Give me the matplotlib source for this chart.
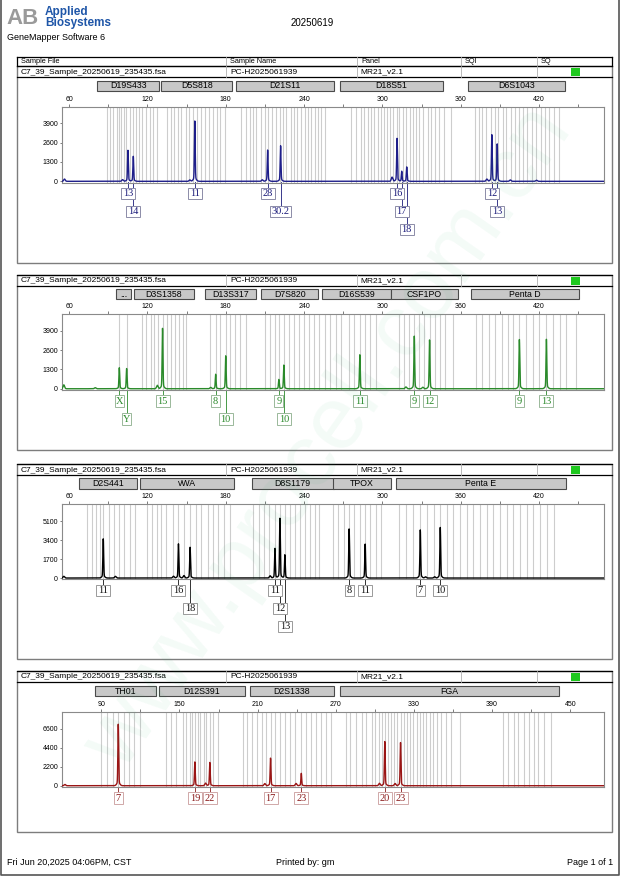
import numpy as np
import matplotlib
matplotlib.use("Agg")
import matplotlib.pyplot as plt
from matplotlib.patches import Rectangle
from matplotlib.transforms import blended_transform_factory

plt.rcParams['font.family'] = ['Liberation Sans', 'DejaVu Sans']

W, H = 620, 876

## header texts ##
run_date = '20250619'
sample_file = 'C7_39_Sample_20250619_235435.fsa'
sample_name = 'PC-H2025061939'
panel_name = 'MR21_v2.1'
table_cols = ['Sample File', 'Sample Name', 'Panel', 'SQI', 'SQ']

## panel 1 : blue dye ##
p1_markers = ['D19S433', 'D5S818', 'D21S11', 'D18S51', 'D6S1043']
p1_marker_lo = [81.7, 130.6, 188.0, 267.5, 365.6]
p1_marker_hi = [129.1, 184.9, 263.0, 346.3, 439.8]
p1_size = [105.1, 109.2, 156.3, 212.1, 222.0, 311.2, 314.8, 318.6, 383.8, 387.9]
p1_height = [1960, 1580, 3820, 1980, 2250, 2720, 640, 910, 2950, 2370]
p1_allele = ['13', '14', '11', '28', '30.2', '16', '17', '18', '12', '13']
p1_row = [0, 1, 0, 0, 1, 0, 1, 2, 0, 1]
p1_small_size = [56.5, 101.0, 152.5, 208.0, 307.4, 380.0, 398.0, 418.0]
p1_small_height = [150, 110, 90, 100, 280, 150, 90, 70]
p1_bins = [88.8, 91.3, 93.8, 96.4, 98.2, 100.0, 101.9, 103.9, 106.4, 109.0, 111.5, 113.5,
           116.0, 118.6, 121.8, 124.3, 127.0,
           134.7, 137.8, 140.3, 143.6, 146.1, 149.2, 152.0, 155.0, 158.1, 161.1, 163.9,
           167.0, 170.3, 173.4, 175.9, 179.5,
           192.0, 195.8, 198.3, 200.9, 203.4, 206.9, 209.9, 212.7, 215.7, 218.3, 221.6,
           223.9, 226.4, 229.7, 232.2, 234.8, 237.3, 240.4, 243.2, 245.5, 248.0, 250.6,
           253.1, 255.7,
           276.0, 279.8, 283.6, 286.2, 288.7, 291.3, 293.8, 296.9, 298.9, 301.5, 303.2,
           305.8, 308.3, 310.9, 312.9, 315.9, 318.0, 321.1, 323.1, 325.6, 328.2, 330.7,
           334.6, 337.1, 340.4, 343.5, 347.3, 352.4,
           371.0, 374.1, 376.6, 379.7, 383.0, 386.3, 388.9, 392.4, 395.0, 398.3, 401.6,
           404.7, 407.7, 411.0, 414.3, 417.9, 421.2, 424.5, 427.6, 431.4, 435.2]

## panel 2 : green dye ##
p2_markers = ['...', 'D3S1358', 'D13S317', 'D7S820', 'D16S539', 'CSF1PO', 'Penta D']
p2_marker_lo = [95.6, 109.5, 163.9, 207.2, 253.8, 306.3, 367.5]
p2_marker_hi = [107.6, 155.6, 203.4, 251.0, 306.3, 357.8, 450.8]
p2_size = [98.5, 104.1, 131.6, 172.3, 180.0, 220.7, 224.5, 282.7, 324.4, 336.1, 404.9, 425.6]
p2_height = [1330, 1280, 3830, 920, 2090, 590, 1500, 2150, 3340, 3100, 3120, 3140]
p2_allele = ['X', 'Y', '15', '8', '10', '9', '10', '11', '9', '12', '9', '13']
p2_row = [0, 1, 0, 0, 1, 0, 1, 0, 0, 0, 0, 0]
p2_small_size = [56.0, 80.0, 127.6, 168.5, 318.0, 331.0]
p2_small_height = [260, 70, 230, 90, 120, 100]
p2_bins = [98.5, 104.1,
           115.5, 119.3, 122.4, 125.0, 128.3, 131.6, 134.7, 137.8, 141.1, 144.1, 146.9, 149.9,
           167.8, 172.3, 175.4, 180.0, 183.5, 186.8, 190.6, 195.8,
           209.8, 213.6, 217.4, 220.7, 224.5, 228.3, 232.1, 235.9, 239.7, 243.5, 247.5, 251.8,
           256.0, 260.0, 264.2, 268.5, 274.3, 278.6, 282.7, 286.9, 290.8, 295.0,
           313.0, 316.5, 320.5, 324.4, 328.3, 332.1, 336.1, 340.0, 343.9, 347.8, 353.7,
           371.6, 376.5, 381.6, 386.5, 391.4, 396.0, 400.2, 404.9, 410.0, 415.0, 420.3,
           425.6, 430.7, 435.8, 440.9, 448.0]

## panel 3 : black dye ##
p3_markers = ['D2S441', 'vWA', 'D8S1179', 'TPOX', 'Penta E']
p3_marker_lo = [67.9, 114.3, 199.9, 262.3, 310.2]
p3_marker_hi = [112.2, 186.3, 262.7, 306.4, 440.7]
p3_size = [86.2, 143.8, 152.7, 217.7, 221.5, 225.3, 274.5, 286.8, 329.0, 344.3]
p3_height = [3330, 2900, 2610, 2520, 5070, 1980, 4170, 2880, 4080, 4290]
p3_allele = ['11', '16', '18', '11', '12', '13', '8', '11', '7', '10']
p3_row = [0, 0, 1, 0, 1, 2, 0, 0, 0, 0]
p3_small_size = [56.0, 95.5, 140.0, 148.0, 214.0, 333.0, 340.0]
p3_small_height = [150, 150, 160, 220, 200, 110, 110]
p3_bins = [73.5, 77.2, 81.0, 83.7, 86.2, 90.8, 94.8, 98.4, 102.4, 106.7, 110.7,
           119.4, 123.2, 127.0, 130.8, 134.6, 139.7, 143.8, 147.8, 152.7, 157.0, 161.4,
           166.5, 170.3, 174.1, 178.4, 183.0,
           201.0, 205.3, 209.6, 213.4, 217.7, 221.5, 225.3, 229.1, 233.0, 236.8, 240.6,
           244.4, 248.2, 251.8,
           262.0, 266.2, 270.5, 274.5, 278.4, 282.7, 286.8, 290.8, 295.0, 299.0,
           313.0, 318.3, 323.7, 329.0, 334.0, 339.2, 344.3, 349.3, 354.4, 359.5, 364.6,
           369.7, 374.8, 379.9, 385.0, 390.1, 395.2, 400.3, 405.4, 410.5, 415.6, 420.7,
           425.8, 431.4]

## panel 4 : red dye ##
p4_markers = ['TH01', 'D12S391', 'D2S1338', 'FGA']
p4_marker_lo = [84.9, 134.2, 203.8, 273.1]
p4_marker_hi = [132.2, 200.0, 268.5, 441.7]
p4_size = [103.0, 161.8, 173.3, 219.9, 243.5, 307.6, 319.7]
p4_height = [6750, 2610, 2560, 3030, 1360, 4850, 4740]
p4_allele = ['7', '19', '22', '17', '23', '20', '23']
p4_row = [0, 0, 0, 0, 0, 0, 0]
p4_small_size = [62.0, 170.0, 215.5, 239.5, 303.5, 315.5]
p4_small_height = [150, 300, 250, 260, 280, 260]
p4_bins = [90.0, 94.0, 98.6, 103.0, 107.1, 111.2, 115.3, 119.4,
           139.9, 143.7, 147.6, 152.7, 155.3, 157.8, 159.9, 161.8, 163.9, 165.9, 168.5,
           170.5, 173.3, 175.6, 179.5,
           198.7, 202.0, 205.5, 209.3, 213.1, 216.1, 219.9, 223.7, 227.5, 231.3, 235.1,
           238.9, 243.5, 247.3, 251.1, 254.9, 258.7, 262.7, 266.5,
           278.0, 281.0, 285.2, 290.0, 293.5, 297.6, 300.3, 303.5, 305.8, 307.6, 309.9,
           312.1, 314.6, 317.0, 319.7, 322.0, 324.4, 326.8, 329.5, 332.0, 334.4, 336.9,
           339.6, 342.3, 344.8, 347.6, 350.9, 354.5, 358.6, 365.0,
           398.0, 402.4, 406.6, 410.0, 414.7, 418.0, 421.8, 425.0, 429.6, 435.0]

## layout (pixels) and colours ##
panels = [
    dict(markers=p1_markers, lo=p1_marker_lo, hi=p1_marker_hi, size=p1_size, height=p1_height,
         allele=p1_allele, row=p1_row, ssize=p1_small_size, sheight=p1_small_height, bins=p1_bins,
         top=66, bottom=263, mk=80.5, pt=107, pb=182.5, xlim=(54.6, 469.7), ylim=(-80, 4980),
         xmaj=[60, 120, 180, 240, 300, 360, 420], xmin=[90, 150, 210, 270, 330, 390, 450],
         yt=[0, 1300, 2600, 3900], color='#1e1e8a', lab='#1a1a7a', edge='#8c8ca8'),
    dict(markers=p2_markers, lo=p2_marker_lo, hi=p2_marker_hi, size=p2_size, height=p2_height,
         allele=p2_allele, row=p2_row, ssize=p2_small_size, sheight=p2_small_height, bins=p2_bins,
         top=275, bottom=450, mk=289, pt=314.3, pb=390, xlim=(54.6, 469.7), ylim=(-85, 5000),
         xmaj=[60, 120, 180, 240, 300, 360, 420], xmin=[90, 150, 210, 270, 330, 390, 450],
         yt=[0, 1300, 2600, 3900], color='#2a8a2a', lab='#2a8a2a', edge='#9ab89a'),
    dict(markers=p3_markers, lo=p3_marker_lo, hi=p3_marker_hi, size=p3_size, height=p3_height,
         allele=p3_allele, row=p3_row, ssize=p3_small_size, sheight=p3_small_height, bins=p3_bins,
         top=464, bottom=659, mk=478.3, pt=504.3, pb=579.3, xlim=(54.6, 469.7), ylim=(-115, 6630),
         xmaj=[60, 120, 180, 240, 300, 360, 420], xmin=[90, 150, 210, 270, 330, 390, 450],
         yt=[0, 1700, 3400, 5100], color='#000000', lab='#111111', edge='#9a9a9a'),
    dict(markers=p4_markers, lo=p4_marker_lo, hi=p4_marker_hi, size=p4_size, height=p4_height,
         allele=p4_allele, row=p4_row, ssize=p4_small_size, sheight=p4_small_height, bins=p4_bins,
         top=671, bottom=832, mk=685.7, pt=711.7, pb=787, xlim=(59.8, 475.9), ylim=(-150, 8610),
         xmaj=[90, 150, 210, 270, 330, 390, 450], xmin=[120, 180, 240, 300, 360, 420],
         yt=[0, 2200, 4400, 6600], color='#9a1515', lab='#8b1a1a', edge='#d0a8a8'),
]

fig = plt.figure(figsize=(W / 100, H / 100), dpi=100)
page = fig.add_axes([0, 0, 1, 1])
page.set_xlim(0, W)
page.set_ylim(H, 0)
page.axis('off')

# page border
page.plot([0.6, 0.6, 619.4, 619.4], [0, 875.4, 875.4, 0], color='#555555', lw=1.2)

# logo + titles
page.text(6, 18, 'AB', fontsize=16, fontweight='bold', color='#9a9a9a', va='center')
page.text(45, 12.5, 'Applied', fontsize=8.5, fontweight='bold', color='#1f56a8', va='center')
page.text(45, 23, 'Biosystems', fontsize=8.5, fontweight='bold', color='#1f56a8', va='center')
page.text(7, 37.5, 'GeneMapper Software 6', fontsize=6.5, va='center')
page.text(312, 23.5, run_date, fontsize=7, ha='center', va='center')

col_x = [17, 226, 357, 461, 537, 612]

# top table row
page.plot([17, 612], [57, 57], color='k', lw=0.9)
page.plot([17, 17], [57, 66], color='k', lw=0.9)
page.plot([612, 612], [57, 66], color='k', lw=0.9)
for cx in col_x[1:-1]:
    page.plot([cx, cx], [57, 66], color='#b0b0b0', lw=0.6)
for cx, name in zip(col_x[:-1], table_cols):
    page.text(cx + 4, 61.8, name, fontsize=5.3, va='center')

xs = np.linspace(50, 480, 9000)

for p in panels:
    top, bot = p['top'], p['bottom']
    # panel frame + header row
    page.add_patch(Rectangle((17, top), 595, bot - top, fill=False, ec='#7d7d7d', lw=1.0))
    page.plot([17, 612], [top, top], color='k', lw=0.9)
    page.plot([17, 612], [top + 11, top + 11], color='k', lw=0.9)
    for cx in col_x[1:-1]:
        page.plot([cx, cx], [top, top + 11], color='#b0b0b0', lw=0.6)
    page.text(21, top + 6, sample_file, fontsize=6, va='center')
    page.text(230, top + 6, sample_name, fontsize=6, va='center')
    page.text(360, top + 6, panel_name, fontsize=6, va='center')
    page.add_patch(Rectangle((571, top + 2), 8.5, 8, fc='#1ec81e', ec='none'))

    # electropherogram
    ax = fig.add_axes([62 / W, 1 - p['pb'] / H, 542 / W, (p['pb'] - p['pt']) / H])
    ax.set_facecolor('none')
    ax.set_xlim(*p['xlim'])
    ax.set_ylim(*p['ylim'])
    for b in p['bins']:
        ax.axvline(b, color='#cdcdcd', lw=0.8, zorder=0)
    y = np.zeros_like(xs)
    for s, h in zip(p['size'], p['height']):
        y += h * np.exp(-0.5 * ((xs - s) / 0.3) ** 2) + 0.06 * h * np.exp(-0.5 * ((xs - s) / 1.1) ** 2)
    for s, h in zip(p['ssize'], p['sheight']):
        y += h * np.exp(-0.5 * ((xs - s) / 0.6) ** 2)
    ax.plot(xs, y, color=p['color'], lw=1.0, zorder=3)
    ax.xaxis.set_ticks_position('top')
    ax.set_xticks(p['xmaj'])
    ax.set_xticks(p['xmin'], minor=True)
    ax.set_yticks(p['yt'])
    ax.tick_params(axis='x', which='both', direction='out', length=2, width=0.6,
                   color='#666666', labelsize=5, pad=0.8)
    ax.tick_params(axis='y', direction='out', length=1.5, width=0.6,
                   color='#666666', labelsize=5, pad=1.4)
    for sp in ax.spines.values():
        sp.set_color('#8a8a8a')
        sp.set_linewidth(0.8)

    tr = blended_transform_factory(ax.transData, page.transData)
    bp_per_px = (p['xlim'][1] - p['xlim'][0]) / 542.0

    # marker bins boxes
    for name, lo, hi in zip(p['markers'], p['lo'], p['hi']):
        page.add_patch(Rectangle((lo, p['mk']), hi - lo, 10.3, transform=tr, fc='#c8c8c8',
                                 ec='#4a4a4a', lw=0.8, clip_on=False))
        page.text((lo + hi) / 2, p['mk'] + 5.4, name, transform=tr, ha='center', va='center',
                  fontsize=6.3, clip_on=False)

    # allele labels
    base = p['pb'] - 1.3
    for s, a, r in zip(p['size'], p['allele'], p['row']):
        ytop = base + 6.5 + 18 * r
        wpx = 4 + 5 * sum(ch.isalnum() for ch in a) + 2.5 * a.count('.')
        page.plot([s, s], [base + 0.5, ytop], transform=tr, color=p['lab'], lw=0.6,
                  zorder=2, clip_on=False)
        page.add_patch(Rectangle((s - wpx / 2 * bp_per_px, ytop), wpx * bp_per_px, 11.7,
                                 transform=tr, fc='white', ec=p['edge'], lw=0.7,
                                 zorder=3, clip_on=False))
        page.text(s, ytop + 6.2, a, transform=tr, ha='center', va='center', fontsize=7.5,
                  family='Liberation Serif', color=p['lab'], zorder=4, clip_on=False)

# footer
page.text(7, 862.5, 'Fri Jun 20,2025 04:06PM, CST', fontsize=6.5, va='center')
page.text(305, 862.5, 'Printed by: gm', fontsize=6.5, va='center', ha='center')
page.text(613, 862.5, 'Page 1 of 1', fontsize=6.5, va='center', ha='right')

# faint watermark
fig.text(0.53, 0.5, 'www.procell.com.cn', fontsize=64, rotation=55, color='#2db36b',
         alpha=0.055, ha='center', va='center')

fig.savefig('out.png', dpi=100)
